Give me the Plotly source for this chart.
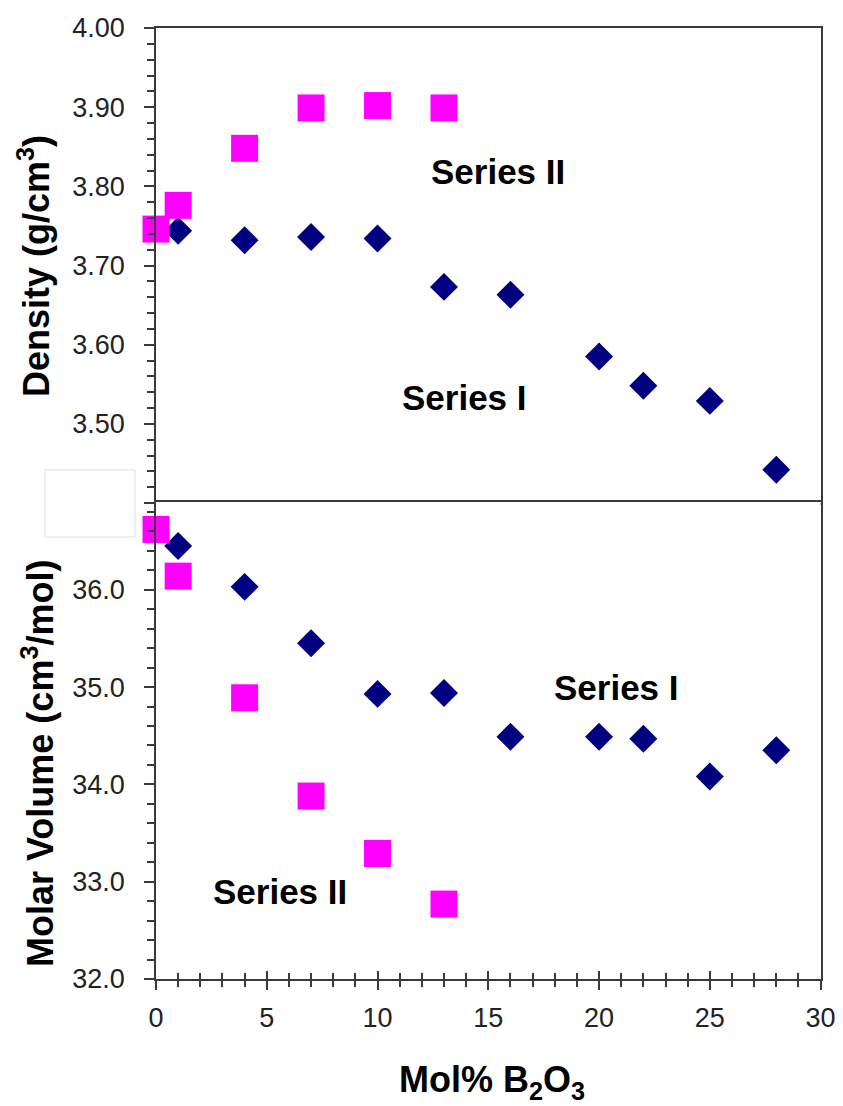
import plotly.graph_objects as go

W, H = 843, 1106

# ---------------- data ----------------
mol_I = [1, 4, 7, 10, 13, 16, 20, 22, 25, 28]
density_I = [3.744, 3.732, 3.736, 3.734, 3.673, 3.663, 3.585, 3.548, 3.529, 3.442]
molvol_I = [36.45, 36.03, 35.45, 34.93, 34.94, 34.49, 34.49, 34.47, 34.08, 34.35]

mol_II = [0, 1, 4, 7, 10, 13]
density_II = [3.746, 3.776, 3.848, 3.899, 3.902, 3.899]
molvol_II = [36.62, 36.14, 34.89, 33.88, 33.29, 32.77]

x_range = [0, 30]
dens_range = [3.40, 4.00]
mv_range = [32.0, 36.9]

# ---------------- layout helpers (pixel -> paper) ----------------
def px(xp):
    return xp / W

def py(yp):
    return 1 - yp / H

X_DOM = [px(156), px(820.6)]
TOP_DOM = [py(503), py(28)]
BOT_DOM = [py(979), py(502.2)]

NAVY = "#000080"
MAGENTA = "#FF00FF"
LINE = "#3a3a3a"
FONT = "Arial, Liberation Sans, sans-serif"

fig = go.Figure()

# top panel: density
fig.add_trace(go.Scatter(x=mol_I, y=density_I, mode="markers", xaxis="x", yaxis="y",
                         marker=dict(symbol="diamond", size=21.5, color=NAVY, line=dict(width=0)),
                         cliponaxis=False, showlegend=False))
fig.add_trace(go.Scatter(x=mol_II, y=density_II, mode="markers", xaxis="x", yaxis="y",
                         marker=dict(symbol="square", size=27, color=MAGENTA, line=dict(width=0)),
                         cliponaxis=False, showlegend=False))
# bottom panel: molar volume
fig.add_trace(go.Scatter(x=mol_I, y=molvol_I, mode="markers", xaxis="x2", yaxis="y2",
                         marker=dict(symbol="diamond", size=21.5, color=NAVY, line=dict(width=0)),
                         cliponaxis=False, showlegend=False))
fig.add_trace(go.Scatter(x=mol_II, y=molvol_II, mode="markers", xaxis="x2", yaxis="y2",
                         marker=dict(symbol="square", size=27, color=MAGENTA, line=dict(width=0)),
                         cliponaxis=False, showlegend=False))
# empty trace for the inside-tick overlay axis
fig.add_trace(go.Scatter(x=[], y=[], xaxis="x3", yaxis="y2", showlegend=False))

tickfont = dict(family=FONT, size=27, color="#222")

fig.update_layout(
    width=W, height=H,
    margin=dict(l=0, r=0, t=0, b=0),
    paper_bgcolor="white", plot_bgcolor="white",
    font=dict(family=FONT),
    xaxis=dict(domain=X_DOM, range=x_range, anchor="y", showline=True, linecolor=LINE, linewidth=1.5,
               mirror=True, ticks="", showticklabels=False, showgrid=False, zeroline=False,
               automargin=False),
    yaxis=dict(domain=TOP_DOM, range=dens_range, anchor="x", showline=True, linecolor=LINE, linewidth=1.5,
               mirror=True, ticks="outside", ticklen=10, tickwidth=1.5, tickcolor=LINE,
               tick0=3.4, dtick=0.1, tickformat=".2f", tickfont=tickfont, ticklabelstandoff=14,
               minor=dict(ticks="outside", dtick=0.02, ticklen=7, tickwidth=1.5, tickcolor=LINE, showgrid=False),
               showgrid=False, zeroline=False, automargin=False),
    xaxis2=dict(domain=X_DOM, range=x_range, anchor="y2", showline=True, linecolor=LINE, linewidth=1.5,
                mirror=True, ticks="outside", ticklen=9, tickwidth=1.5, tickcolor=LINE,
                tick0=0, dtick=5, tickfont=tickfont, ticklabelstandoff=5,
                minor=dict(ticks="outside", dtick=1, ticklen=6, tickwidth=1.5, tickcolor=LINE, showgrid=False),
                showgrid=False, zeroline=False, automargin=False),
    xaxis3=dict(domain=X_DOM, range=x_range, anchor="y2", overlaying="x2", showline=False,
                ticks="inside", ticklen=8, tickwidth=1.5, tickcolor=LINE, tick0=0, dtick=5,
                showticklabels=False,
                minor=dict(ticks="inside", dtick=1, ticklen=6, tickwidth=1.5, tickcolor=LINE, showgrid=False),
                showgrid=False, zeroline=False, automargin=False),
    yaxis2=dict(domain=BOT_DOM, range=mv_range, anchor="x2", showline=True, linecolor=LINE, linewidth=1.5,
                mirror=True, ticks="outside", ticklen=10, tickwidth=1.5, tickcolor=LINE,
                tick0=32, dtick=1, tickformat=".1f", tickfont=tickfont, ticklabelstandoff=14,
                minor=dict(ticks="outside", dtick=0.2, ticklen=7, tickwidth=1.5, tickcolor=LINE, showgrid=False),
                showgrid=False, zeroline=False, automargin=False),
)

title_font = dict(family=FONT, size=36, color="black")
label_font = dict(family=FONT, size=35, color="black")

annotations = [
    # axis titles
    dict(text="<b>Density (g/cm<sup>3</sup>)</b>", xref="paper", yref="paper", x=px(34), y=py(266),
         textangle=-90, showarrow=False, font=title_font, xanchor="center", yanchor="middle"),
    dict(text="<b>Molar Volume (cm<sup>3</sup>/mol)</b>", xref="paper", yref="paper", x=px(38), y=py(764),
         textangle=-90, showarrow=False, font=title_font, xanchor="center", yanchor="middle"),
    dict(text="<b>Mol% B<sub>2</sub>O<sub>3</sub></b>", xref="paper", yref="paper", x=px(492), y=py(1082),
         showarrow=False, font=title_font, xanchor="center", yanchor="middle"),
    # series labels
    dict(text="<b>Series II</b>", xref="x", yref="y", x=15.44, y=3.819, showarrow=False,
         font=label_font, xanchor="center", yanchor="middle"),
    dict(text="<b>Series I</b>", xref="x", yref="y", x=13.93, y=3.533, showarrow=False,
         font=label_font, xanchor="center", yanchor="middle"),
    dict(text="<b>Series I</b>", xref="x2", yref="y2", x=20.8, y=35.0, showarrow=False,
         font=label_font, xanchor="center", yanchor="middle"),
    dict(text="<b>Series II</b>", xref="x2", yref="y2", x=5.61, y=32.9, showarrow=False,
         font=label_font, xanchor="center", yanchor="middle"),
]
fig.update_layout(annotations=annotations)

# white box covering the hidden tick labels at the panel junction
fig.add_shape(type="rect", xref="paper", yref="paper", x0=px(45), x1=px(135), y0=py(537), y1=py(470),
              fillcolor="white", line=dict(color="#e0e0e0", width=1), layer="above")

fig.write_html("out.html")
